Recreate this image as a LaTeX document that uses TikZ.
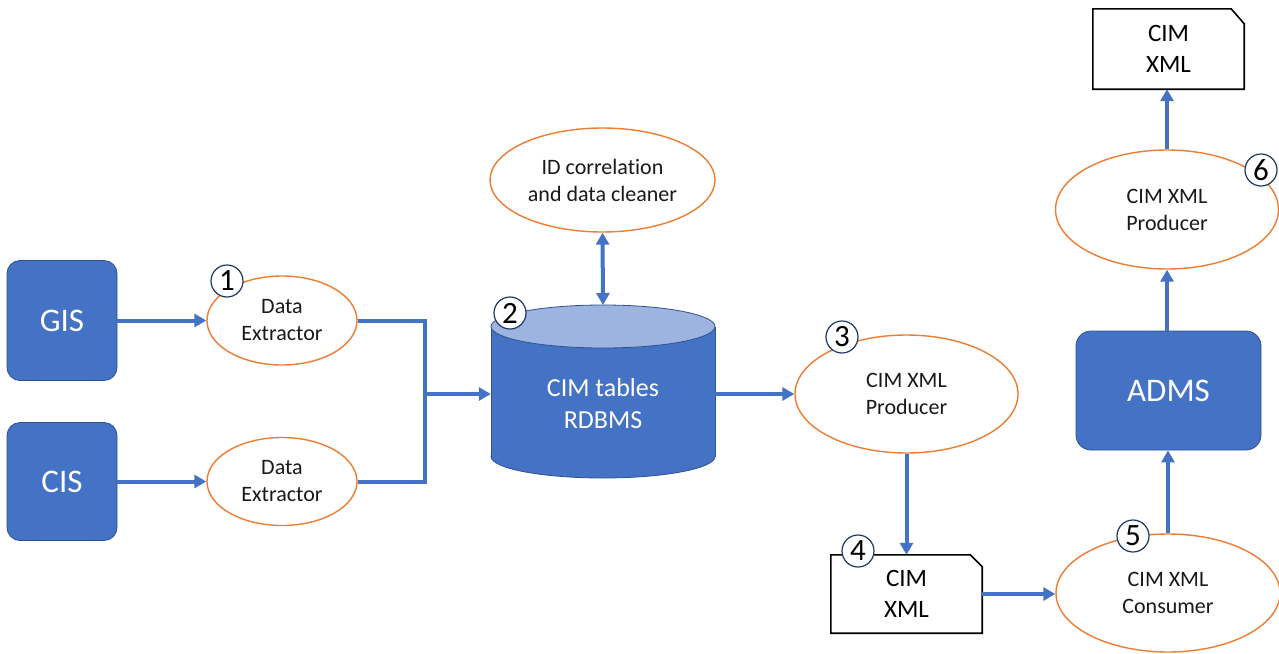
\documentclass[tikz,border=0pt]{standalone}
\usepackage{fontspec}
\setmainfont{Carlito}[Ligatures=NoCommon]
\usetikzlibrary{shapes.geometric,arrows.meta,calc}
\definecolor{offblue}{HTML}{4472C4}
\definecolor{offblueline}{HTML}{2F528F}
\definecolor{offbluelight}{HTML}{9DB3E0}
\definecolor{offorange}{HTML}{ED7D31}
\definecolor{navy}{HTML}{203864}
\begin{document}
\begin{tikzpicture}[x=1pt,y=-1pt,
  sysbox/.style={rectangle, rounded corners=13pt, fill=offblue, draw=offblueline, line width=0.8pt,
    text=white, font=\fontsize{33}{38}\selectfont, inner sep=0pt},
  proc/.style={ellipse, draw=offorange, line width=1.4pt, fill=white, inner sep=0pt,
    align=center, text=black!90, font=\fontsize{22}{27}\selectfont},
  docbox/.style={rectangle, inner sep=0pt, align=center, text=black,
    font=\fontsize{25}{31}\selectfont},
  stepnum/.style={circle, draw=navy, line width=1.2pt, fill=white, inner sep=0pt,
    minimum size=32pt, font=\fontsize{31}{31}\selectfont},
  tip/.tip={Triangle[length=12pt,width=13pt]},
  arr/.style={draw=offblue, line width=4pt, -tip},
  arrtwo/.style={draw=offblue, line width=4pt, tip-tip},
  link/.style={draw=offblue, line width=4pt}
]
\useasboundingbox (0,0) rectangle (1279,653);

% source systems
\node[sysbox, minimum width=110pt, minimum height=120pt] (gis) at (62,320.5) {GIS};
\node[sysbox, minimum width=110pt, minimum height=118pt] (cis) at (62,481.5) {CIS};

% extractors
\node[proc, minimum width=150pt, minimum height=89pt] (de1) at (282,320.5) {Data\\Extractor};
\node[proc, minimum width=150pt, minimum height=88pt] (de2) at (282,481.5) {Data\\Extractor};

% database cylinder
\node[minimum width=224pt, minimum height=168pt, inner sep=0pt] (db) at (603,394) {};
\fill[offblue, draw=offblueline, line width=0.8pt] (603,456.5) ellipse [x radius=112, y radius=21.5];
\fill[offblue] (491,326.5) rectangle (715,456.5);
\draw[offblueline, line width=0.8pt] (491,326.5) -- (491,456.5) (715,326.5) -- (715,456.5);
\fill[offbluelight, draw=offblueline, line width=0.8pt] (603,326.5) ellipse [x radius=112, y radius=21.5];
\coordinate (dbtop) at (603,305);
\node[text=white, align=center, font=\fontsize{26}{32}\selectfont] (dbtext) at (603,404) {CIM tables\\RDBMS};

% cleaner
\node[proc, minimum width=225pt, minimum height=104pt] (idc) at (602.5,180) {ID correlation\\and data cleaner};

% producer / consumer chain
\node[proc, minimum width=223pt, minimum height=118pt] (p3) at (906.5,394) {CIM XML\\Producer};
\node[docbox, minimum width=151pt, minimum height=78pt] (doc4) at (906.5,594) {CIM\\XML};
\draw[black, line width=1.6pt] (doc4.south west) -- (doc4.north west) -- ([xshift=-12pt]doc4.north east)
  -- ([yshift=-12pt]doc4.north east) -- (doc4.south east) -- cycle;
\node[proc, minimum width=224pt, minimum height=118pt] (cons) at (1168,593) {CIM XML\\Consumer};
\node[sysbox, minimum width=185pt, minimum height=119pt, rounded corners=15pt] (adms) at (1168.5,390.5) {ADMS};
\node[proc, minimum width=223pt, minimum height=119pt] (p6) at (1167,209.5) {CIM XML\\Producer};
\node[docbox, minimum width=151pt, minimum height=80pt] (doc6) at (1168.5,49) {CIM\\XML};
\draw[black, line width=1.6pt] (doc6.south west) -- (doc6.north west) -- ([xshift=-13pt]doc6.north east)
  -- ([yshift=-15pt]doc6.north east) -- (doc6.south east) -- cycle;

% connectors
\draw[arr] (gis.east) -- (de1.west);
\draw[arr] (cis.east) -- (de2.west);
\coordinate (j) at (425,394);
\draw[link] (de1.east) -| (j);
\draw[link] (de2.east) -| (j);
\draw[arr] (j) -- (j -| db.west);
\draw[arrtwo] (idc.south) -- (dbtop);
\draw[arr] (db.east |- p3.west) -- (p3.west);
\draw[arr] (p3.south) -- (doc4.north);
\draw[arr] (doc4.east) -- (doc4.east -| cons.west);
\draw[arr] (cons.north) -- (cons.north |- adms.south);
\draw[arr] (adms.north -| p6.south) -- (p6.south);
\draw[arr] (p6.north) -- (p6.north |- doc6.south);

% step markers
\node[stepnum] (s1) at (227,281) {1};
\node[stepnum] (s2) at (510,313) {2};
\node[stepnum] (s3) at (842,337) {3};
\node[stepnum] (s4) at (858,551) {4};
\node[stepnum] (s5) at (1133,536) {5};
\node[stepnum] (s6) at (1261,170) {6};
\end{tikzpicture}
\end{document}
